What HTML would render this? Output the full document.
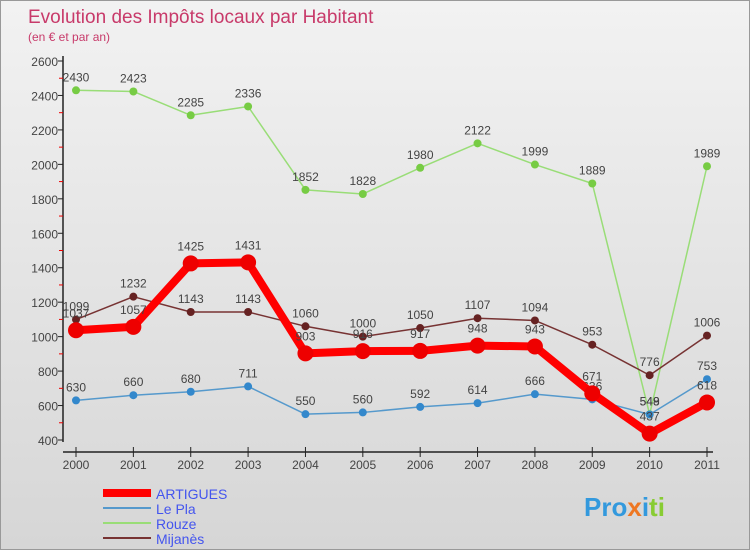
<!DOCTYPE html>
<html><head><meta charset="utf-8"><style>
body{margin:0}
#c{width:750px;height:550px;position:relative;font-family:"Liberation Sans",sans-serif;background:linear-gradient(#f2f2f2,#d6d6d6);border:1px solid #999;box-sizing:border-box;overflow:hidden}
</style></head><body>
<div id="c">
<svg id="s" width="750" height="550"></svg>
</div>
<script>
const years=["2000","2001","2002","2003","2004","2005","2006","2007","2008","2009","2010","2011"];
const artigues=[1037,1057,1425,1431,903,916,917,948,943,671,437,618];
const lePla=[630,660,680,711,550,560,592,614,666,636,548,753];
const rouze=[2430,2423,2285,2336,1852,1828,1980,2122,1999,1889,549,1989];
const mijanes=[1099,1232,1143,1143,1060,1000,1050,1107,1094,953,776,1006];
const yTicks=[400,600,800,1000,1200,1400,1600,1800,2000,2200,2400,2600];
const NS="http://www.w3.org/2000/svg",s=document.getElementById('s');
const X=i=>75+i*(706-75)/11, Y=v=>439-(v-400)*(379/2200);
function el(t,a,p){const e=document.createElementNS(NS,t);for(const k in a)e.setAttribute(k,a[k]);(p||s).appendChild(e);return e;}
function tx(x,y,str,a){const e=el('text',Object.assign({x:x,y:y},a));e.textContent=str;return e;}
const t1=tx(27,22,"Evolution des Impôts locaux par Habitant",{fill:"#c83a6a","font-size":19});

const t2=tx(27,40,"(en € et par an)",{fill:"#c83a6a","font-size":12});

// axes
const ya=el('line',{x1:62,y1:55,x2:62,y2:441,stroke:"#222","stroke-width":1.5});

const xa=el('line',{x1:62,y1:451,x2:712,y2:451,stroke:"#222","stroke-width":1.5});

yTicks.forEach((v,i)=>{el('line',{x1:57,y1:Y(v),x2:62,y2:Y(v),stroke:"#222"});
 if(i<yTicks.length-1)el('line',{x1:58,y1:Y(v+100),x2:62,y2:Y(v+100),stroke:"#e00"});
 const t=tx(57,Y(v)+5,v,{fill:"#444","font-size":12,"text-anchor":"end"});
 });
years.forEach((y,i)=>{el('line',{x1:X(i),y1:446,x2:X(i),y2:456,stroke:"#222"});
 const t=tx(X(i),468,y,{fill:"#444","font-size":12,"text-anchor":"middle"});
 });
function series(d,name,col,w,r,dot){
 const g=el('g',{});
 el('polyline',{points:d.map((v,i)=>X(i)+","+Y(v)).join(" "),fill:"none",stroke:col,"stroke-width":w,"stroke-linejoin":"round"},g);
 d.forEach((v,i)=>{const c=el('circle',{cx:X(i),cy:Y(v),r:r,fill:dot},g);
  
  const t=tx(X(i),Y(v)-r-5,v,{fill:"#444","font-size":12,"text-anchor":"middle"},);g.appendChild(t);
  });
}
series(rouze,'rouze',"#99dd77",1.5,4,"#77cc44");
series(lePla,'le-pla',"#5599cc",1.5,4,"#3388cc");
series(mijanes,'mijanes',"#773333",1.5,4,"#662222");
series(artigues,'artigues',"#ff0000",8,8,"#ee0000");
const leg=[["ARTIGUES","#ff0000",8],["Le Pla","#5599cc",2],["Rouze","#99dd77",2],["Mijanès","#773333",2]];
leg.forEach((l,i)=>{const y=492+i*15;const g=el('g',{});
 
 el('line',{x1:102,y1:y,x2:150,y2:y,stroke:l[1],"stroke-width":l[2]},g);
 const t=tx(155,y+6,l[0],{fill:"#4455ee","font-size":14},);g.appendChild(t);});
const lg=tx(583,515,"Pro",{"font-size":26,"font-weight":"bold",fill:"#3399dd"});

const a=el('tspan',{fill:"#ee7722"},lg);a.textContent="x";
const b=el('tspan',{fill:"#3399dd"},lg);b.textContent="i";
const c2=el('tspan',{fill:"#88cc33"},lg);c2.textContent="ti";
</script>
</body></html>
